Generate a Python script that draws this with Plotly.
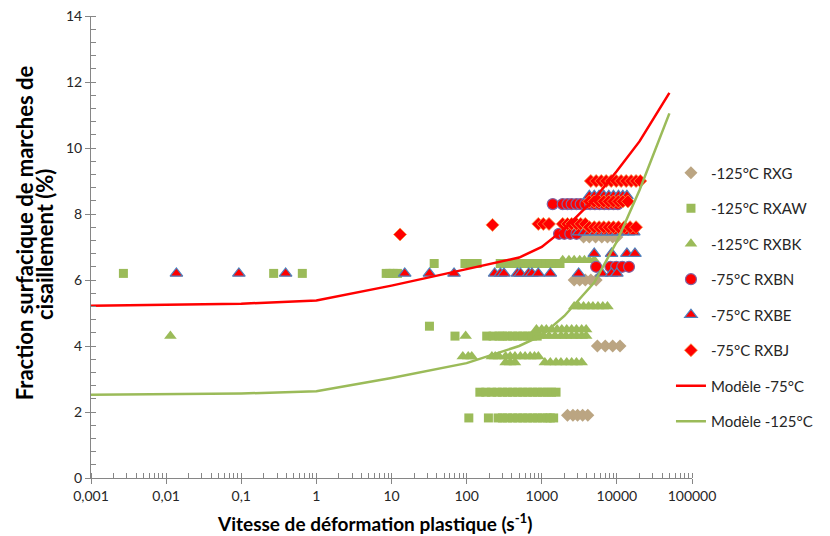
import plotly.graph_objects as go

# ---------------- data ----------------
# Model curves
model_x = [0.001, 0.01, 0.1, 1, 10, 100, 500, 1000, 2000, 5000, 10000, 20000, 50000]
model_75 = [5.22, 5.24, 5.28, 5.38, 5.83, 6.33, 6.68, 7.0, 7.55, 8.45, 9.3, 10.2, 11.67]
model_125 = [2.52, 2.53, 2.56, 2.63, 3.03, 3.48, 4.0, 4.32, 4.91, 5.92, 7.17, 8.72, 11.05]

# -125°C RXG (diamonds)
rxg_x = [2200, 2600, 3000, 3500, 4100,
         5500, 7000, 8800, 11000,
         2700, 3200, 3800, 4500, 5300,
         3600, 4300, 5200, 6300, 7500, 8800, 10000]
rxg_y = [1.9, 1.9, 1.9, 1.9, 1.9,
         4.0, 4.0, 4.0, 4.0,
         6.0, 6.0, 6.0, 6.0, 6.0,
         7.3, 7.3, 7.3, 7.3, 7.3, 7.3, 7.3]

# -125°C RXAW (squares)
rxaw_x = [0.0027, 0.27, 0.65, 8.5, 9.5, 10.5, 12,
          37, 95, 115, 138, 280, 330, 380, 440, 510, 590, 680, 780, 1000, 1150, 1300, 1500, 1750,
          32,
          70, 185, 225, 270, 300, 350, 410, 480, 560, 650, 750, 870,
          150, 180, 215, 255, 300, 350, 410, 480, 560, 650, 760, 880, 1020, 1180, 1350, 1550,
          107, 195, 262, 300, 350, 410, 480, 560, 650, 760, 880, 1020, 1180, 1300, 1440]
rxaw_y = [6.2] * 7 + [6.5] * 17 + [4.6] + [4.3] * 12 + [2.6] * 16 + [1.82] * 15

# -125°C RXBK (triangles)
rxbk_x = [0.0114, 97,
          89, 105, 117, 217, 240, 270, 330, 380, 440, 520, 600, 700, 800, 900,
          330, 380, 440, 1100, 1300, 1550, 1800, 2150, 2500, 2900, 3400,
          850, 1000, 1150, 1350, 1600, 1850, 2150, 2500, 2900, 3400, 3900,
          900, 1050, 1250, 1500, 1800, 2100, 2500, 2900, 3400, 3900,
          2700, 3100, 3600, 4200, 4800, 5600, 6500, 7500,
          1900, 2300, 2700, 3200, 3700, 4300, 5000]
rxbk_y = [4.3, 4.3] + [3.68] * 14 + [3.5] * 11 + [4.5] * 11 + [4.3] * 10 + [5.2] * 8 + [6.6] * 7

# -75°C RXBN (circles)
rxbn_x = [1700, 2000, 2400, 2900,
          1400, 1900, 2200, 2500, 2900, 3300, 3800, 4400, 5100, 5900, 6800, 7800, 9000, 10300,
          5300, 8200, 9800, 11800, 14500]
rxbn_y = [7.4] * 4 + [8.3] * 14 + [6.4] * 5

# -75°C RXBE (triangles)
rxbe_x = [0.0137, 0.093, 0.39, 15, 32, 68, 236, 282, 314, 475, 520, 670, 740, 900, 1300, 3100, 6300, 8500, 10000,
          5000, 8500, 13600, 17400,
          4300, 5000, 5800, 6700, 7800, 9000, 10500, 12000, 13600,
          3100, 3700, 4400, 5200, 6200, 7300, 8600, 10200, 12000, 14200, 16800]
rxbe_y = [6.2] * 19 + [6.8] * 4 + [8.55] * 9 + [7.45] * 11

# -75°C RXBJ (diamonds)
rxbj_x = [13, 221,
          900, 1050, 1250, 1900, 2200, 2500, 2900, 3300, 3800,
          4300, 5000, 5800, 6700, 7800, 9000, 10500, 12500, 15000, 18000,
          4500, 5300, 6200, 7200, 8400, 9800, 11400, 13300, 15500, 18000, 20500,
          4300, 5000, 5800, 6700, 7800, 9000, 10500, 12000, 14000]
rxbj_y = [7.38, 7.67] + [7.7] * 9 + [7.6] * 10 + [9.0] * 11 + [8.38] * 9

x_tickvals = [0.001, 0.01, 0.1, 1, 10, 100, 1000, 10000, 100000]
x_ticktext = ["0,001", "0,01", "0,1", "1", "10", "100", "1000", "10000", "100000"]
y_tickvals = [0, 2, 4, 6, 8, 10, 12, 14]

x_title = "Vitesse de déformation plastique (s<sup>-1</sup>)"
y_title_lines = ["Fraction surfacique de marches de", "cisaillement (%)"]

# ---------------- figure ----------------
GREEN = "#9BBB59"
RED = "#FF0000"
FONT = "Lato"
AXIS = "#868686"
TXT = "#262626"

fig = go.Figure()

def add_scatter(x, y, name, symbol, color, size, lcolor, lwidth, group):
    fig.add_trace(go.Scatter(
        x=x, y=y, mode="markers", name=name, legendgroup=group,
        marker=dict(symbol=symbol, color=color, size=size,
                    line=dict(color=lcolor, width=lwidth))))

add_scatter(rxg_x, rxg_y, "-125°C RXG", "diamond", "#BBA582", 10, "#BBA582", 0, "g1")
add_scatter(rxaw_x, rxaw_y, "-125°C RXAW", "square", GREEN, 9, GREEN, 0, "g2")
add_scatter(rxbk_x, rxbk_y, "-125°C RXBK", "triangle-up", GREEN, 11, GREEN, 0, "g3")
add_scatter(rxbn_x, rxbn_y, "-75°C RXBN", "circle", RED, 11, "#8064A2", 1.2, "g4")
add_scatter(rxbe_x, rxbe_y, "-75°C RXBE", "triangle-up", RED, 11, "#4F81BD", 1.2, "g5")
add_scatter(rxbj_x, rxbj_y, "-75°C RXBJ", "diamond", RED, 10, "#F79646", 0.8, "g6")

fig.add_trace(go.Scatter(x=model_x, y=model_75, mode="lines", name="Modèle -75°C",
                         legendgroup="g7", line=dict(color=RED, width=2.5)))
fig.add_trace(go.Scatter(x=model_x, y=model_125, mode="lines", name="Modèle -125°C",
                         legendgroup="g8", line=dict(color=GREEN, width=2.5)))

# page has an 8px body margin: figure is 822x528, plot area at page x 91-684, y 16-478
fig.update_layout(
    width=822, height=528,
    margin=dict(l=83, r=138, t=8, b=58, autoexpand=False),
    paper_bgcolor="white", plot_bgcolor="white",
    font=dict(family=FONT, size=14, color=TXT),
    legend=dict(x=0.965, xanchor="left", y=0.696, yanchor="top",
                font=dict(size=15, color=TXT), tracegroupgap=13,
                bgcolor="rgba(0,0,0,0)"),
    annotations=[
        dict(text="<b>" + x_title + "</b>", xref="paper", yref="paper",
             x=0.472, y=-0.097, xanchor="center", yanchor="middle",
             showarrow=False, font=dict(size=19, color="#000000")),
        dict(text="<b>" + y_title_lines[0] + "</b>", xref="paper", yref="paper",
             x=-0.1113, y=0.530, xanchor="center", yanchor="middle", textangle=-90,
             showarrow=False, font=dict(size=22, color="#000000")),
        dict(text="<b>" + y_title_lines[1] + "</b>", xref="paper", yref="paper",
             x=-0.0776, y=0.505, xanchor="center", yanchor="middle", textangle=-90,
             showarrow=False, font=dict(size=22, color="#000000")),
    ],
)

fig.update_xaxes(
    type="log", range=[-3, 5], automargin=False, ticklabeloverflow="allow",
    tickvals=x_tickvals, ticktext=x_ticktext,
    showline=True, linecolor=AXIS, linewidth=1,
    ticks="outside", ticklen=5, tickcolor=AXIS,
    minor=dict(ticks="inside", ticklen=5, tickcolor=AXIS, dtick="D1", showgrid=False),
    showgrid=False, zeroline=False,
    tickfont=dict(size=14, color=TXT),
)
fig.update_yaxes(
    range=[0, 14], tickvals=y_tickvals, automargin=False, ticklabeloverflow="allow",
    showline=True, linecolor=AXIS, linewidth=1,
    ticks="outside", ticklen=5, tickcolor=AXIS,
    minor=dict(ticks="inside", ticklen=5, tickcolor=AXIS, dtick=0.4, showgrid=False),
    showgrid=False, zeroline=False,
    tickfont=dict(size=14, color=TXT),
)

fig.write_html("out.html")
